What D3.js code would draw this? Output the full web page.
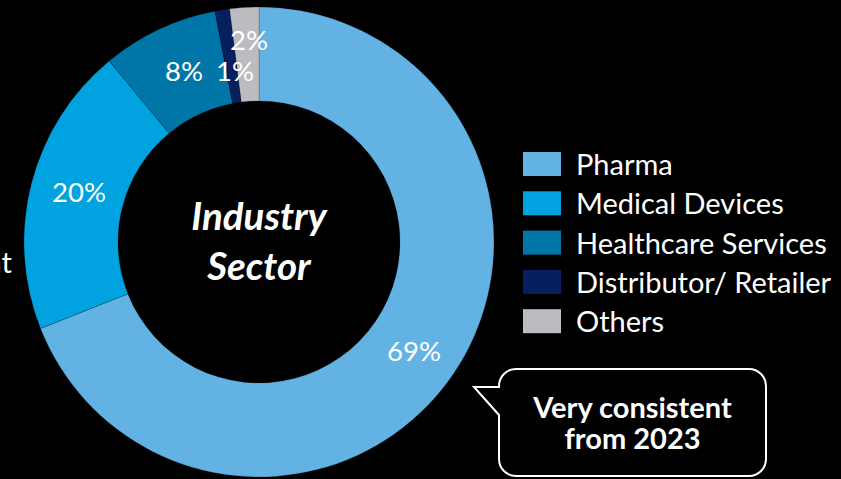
<!DOCTYPE html>
<html>
<head>
<meta charset="utf-8">
<script src="https://cdn.jsdelivr.net/npm/d3@7"></script>
<style>
  html, body { margin: 0; padding: 0; background: #000; }
  svg { display: block; }
  text { font-family: Lato, "Open Sans", sans-serif; }
</style>
</head>
<body>
<svg id="chart" width="841" height="479"></svg>
<script>
// Industry sector split (percent of respondents)
const sectors = ["Pharma", "Medical Devices", "Healthcare Services", "Distributor/ Retailer", "Others"];
const shares = [69, 20, 8, 1, 2];
const sectorColors = ["#62b3e4", "#00a2df", "#0076a8", "#06205f", "#bbbcc0"];
const labelText = ["69%", "20%", "8%", "1%", "2%"];

const centerTitle = ["Industry", "Sector"];
const calloutLines = ["Very consistent", "from 2023"];

const svg = d3.select("#chart");
const W = 841, H = 479;
svg.append("rect").attr("width", W).attr("height", H).attr("fill", "#000");

const cx = 259, cy = 242, rOuter = 235, rInner = 141;

const data = sectors.map((s, i) => ({ sector: s, value: shares[i], color: sectorColors[i], label: labelText[i] }));

const pie = d3.pie().value(d => d.value).sort(null);
const arc = d3.arc().innerRadius(rInner).outerRadius(rOuter);
const arcs = pie(data);

const g = svg.append("g").attr("transform", `translate(${cx},${cy})`);

g.selectAll("path.slice")
  .data(arcs)
  .join("path")
  .attr("class", "slice")
  .attr("d", arc)
  .attr("fill", d => d.data.color)
  .attr("stroke", "rgba(0,0,0,0.25)")
  .attr("stroke-width", 0.7);

// Percent labels; the thin slices get their labels stacked above one another
const labelAnchors = {
  "Pharma": [155, 119],
  "Medical Devices": [-180, -40],
  "Healthcare Services": [-75, -161],
  "Distributor/ Retailer": [-24, -161],
  "Others": [-10, -192]
};
g.selectAll("text.pct")
  .data(arcs)
  .join("text")
  .attr("class", "pct")
  .attr("x", d => labelAnchors[d.data.sector][0])
  .attr("y", d => labelAnchors[d.data.sector][1])
  .attr("text-anchor", "middle")
  .attr("fill", "#fff")
  .attr("font-size", 27.5)
  .text(d => d.data.label);

// Center title
const title = g.append("text")
  .attr("class", "title")
  .attr("text-anchor", "middle")
  .attr("fill", "#fff")
  .attr("font-size", 38.5)
  .attr("font-weight", "bold")
  .attr("font-style", "italic");
title.selectAll("tspan")
  .data(centerTitle)
  .join("tspan")
  .attr("x", 0)
  .attr("y", (d, i) => -12 + i * 50)
  .text(d => d);

// Legend
const legend = svg.append("g").attr("transform", "translate(523,152)");
const rowH = 39.3;
const rows = legend.selectAll("g.row")
  .data(data)
  .join("g")
  .attr("class", "row")
  .attr("transform", (d, i) => `translate(0,${i * rowH})`);
rows.append("rect")
  .attr("width", 38).attr("height", 24)
  .attr("fill", d => d.color);
rows.append("text")
  .attr("x", 53).attr("y", 23)
  .attr("fill", "#fff")
  .attr("font-size", 29)
  .text(d => d.sector);

// Tail end of a label running off the left edge
svg.append("text")
  .attr("x", 12).attr("y", 273)
  .attr("text-anchor", "end")
  .attr("fill", "#fff")
  .attr("font-size", 29)
  .text("nt");

// Speech-bubble callout
const bx0 = 499, bx1 = 766, by0 = 369, by1 = 476, br = 17;
const tipX = 474, tipY = 387, tailBottom = 415;
const bubble = d3.path();
bubble.moveTo(bx0 + br, by0);
bubble.lineTo(bx1 - br, by0);
bubble.arcTo(bx1, by0, bx1, by0 + br, br);
bubble.lineTo(bx1, by1 - br);
bubble.arcTo(bx1, by1, bx1 - br, by1, br);
bubble.lineTo(bx0 + br, by1);
bubble.arcTo(bx0, by1, bx0, by1 - br, br);
bubble.lineTo(bx0, tailBottom);
bubble.lineTo(tipX, tipY);
bubble.lineTo(bx0, tipY);
bubble.arcTo(bx0, by0, bx0 + br, by0, br);
bubble.closePath();
svg.append("path")
  .attr("d", bubble.toString())
  .attr("fill", "#000")
  .attr("stroke", "#fff")
  .attr("stroke-width", 2);

const callout = svg.append("text")
  .attr("class", "callout")
  .attr("text-anchor", "middle")
  .attr("fill", "#fff")
  .attr("font-size", 29)
  .attr("font-weight", "bold");
callout.selectAll("tspan")
  .data(calloutLines)
  .join("tspan")
  .attr("x", (bx0 + bx1) / 2)
  .attr("y", (d, i) => 418 + i * 31)
  .text(d => d);
</script>
</body>
</html>
